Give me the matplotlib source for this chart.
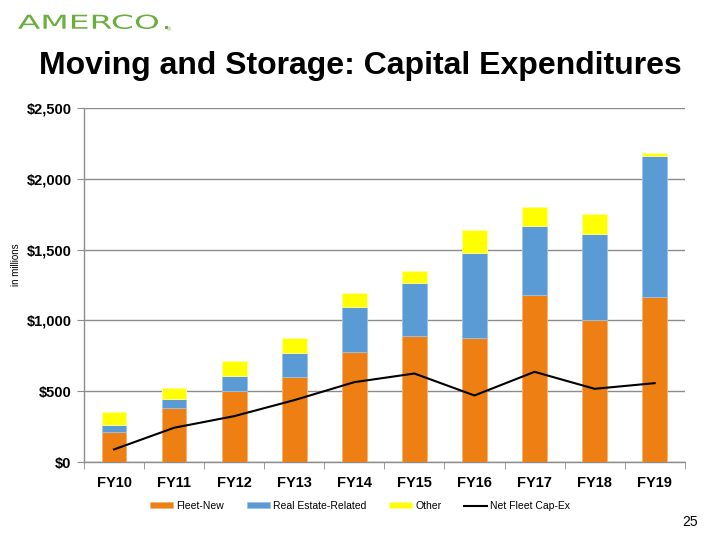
import matplotlib.pyplot as plt
import numpy as np
from matplotlib.ticker import FuncFormatter
from matplotlib.textpath import TextPath
from matplotlib.patches import PathPatch
from matplotlib.font_manager import FontProperties
from matplotlib.transforms import Affine2D

plt.rcParams['font.family'] = ['Liberation Sans', 'DejaVu Sans']

years = ["FY10", "FY11", "FY12", "FY13", "FY14", "FY15", "FY16", "FY17", "FY18", "FY19"]
fleet_new = [214, 385, 503, 599, 780, 893, 879, 1180, 1003, 1163]
real_estate = [47, 59, 101, 169, 313, 369, 594, 484, 607, 1001]
other = [91, 82, 106, 106, 103, 84, 169, 138, 143, 21]
net_fleet = [89, 242, 324, 437, 564, 625, 470, 637, 517, 557]

fig = plt.figure(figsize=(7.2, 5.4), dpi=100)
ax = fig.add_axes([0.1167, 0.1444, 0.8343, 0.6556])

x = np.arange(len(years))
w = 0.41
fleet_new = np.array(fleet_new)
real_estate = np.array(real_estate)
other = np.array(other)

b1 = ax.bar(x, fleet_new, w, color='#EE7F12', edgecolor='#F5B27A', linewidth=0.6, zorder=3)
b2 = ax.bar(x, real_estate, w, bottom=fleet_new, color='#5B9BD5', edgecolor='#9DC3E6',
            linewidth=0.6, zorder=3)
b3 = ax.bar(x, other, w, bottom=fleet_new + real_estate, color='#FFFF00', edgecolor='#FFFF99',
            linewidth=0.6, zorder=3)
ln, = ax.plot(x, net_fleet, color='black', linewidth=1.5, zorder=4)

ax.set_xlim(-0.5, len(years) - 0.5)
ax.set_ylim(0, 2500)
ax.set_yticks(np.arange(0, 2501, 500))
ax.yaxis.set_major_formatter(FuncFormatter(lambda v, p: '${:,.0f}'.format(v)))
ax.grid(axis='y', color='#8C8C8C', linewidth=1, zorder=0)

ax.set_xticks(x)
ax.set_xticklabels(years)
ax.set_xticks(np.arange(-0.5, len(years)), minor=True)
ax.tick_params(axis='x', which='major', length=0, pad=10)
ax.tick_params(axis='x', which='minor', length=5, color='#8C8C8C', direction='out')
ax.tick_params(axis='y', length=5, color='#8C8C8C', direction='out', pad=4)
for lab in ax.get_xticklabels() + ax.get_yticklabels():
    lab.set_fontweight('bold')
    lab.set_fontsize(10.5)

for s in ['top', 'right']:
    ax.spines[s].set_visible(False)
for s in ['left', 'bottom']:
    ax.spines[s].set_color('#8C8C8C')
    ax.spines[s].set_linewidth(1)

fig.text(0.022, 0.51, 'in millions', rotation=90, fontsize=7, ha='center', va='center')

fig.legend([b1, b2, b3, ln], ['Fleet-New', 'Real Estate-Related', 'Other', 'Net Fleet Cap-Ex'],
           loc='center', bbox_to_anchor=(0.5, 0.063), ncol=4, frameon=False,
           fontsize=7.5, handlelength=2.2, handleheight=0.45, columnspacing=2.2, handletextpad=0.3)

fig.text(0.5, 0.878, 'Moving and Storage: Capital Expenditures', ha='center', va='center',
         fontsize=23, fontweight='bold')

# logo, stretched wide
green = '#6AAE3E'
tp = TextPath((0, 0), 'AMERCO', size=20, prop=FontProperties(family='DejaVu Sans'))
bb = tp.get_extents()
sx = 140 / bb.width
sy = 14.5 / bb.height
tr = Affine2D().translate(-bb.x0, -bb.y0).scale(sx, sy).translate(18, 540 - 29)
fig.patches.append(PathPatch(tr.transform_path(tp), facecolor=green, edgecolor='none',
                             transform=None))
dot = TextPath((bb.x1 + 3 / sx, 0), '.', size=20, prop=FontProperties(family='DejaVu Sans'))
fig.patches.append(PathPatch(tr.transform_path(dot), facecolor=green, edgecolor='none',
                             transform=None))
fig.text(0.232, 0.945, '®', fontsize=4, color=green, ha='left', va='center')

fig.text(0.958, 0.033, '25', fontsize=10, ha='center', va='center')

fig.savefig('out.png', dpi=100)
